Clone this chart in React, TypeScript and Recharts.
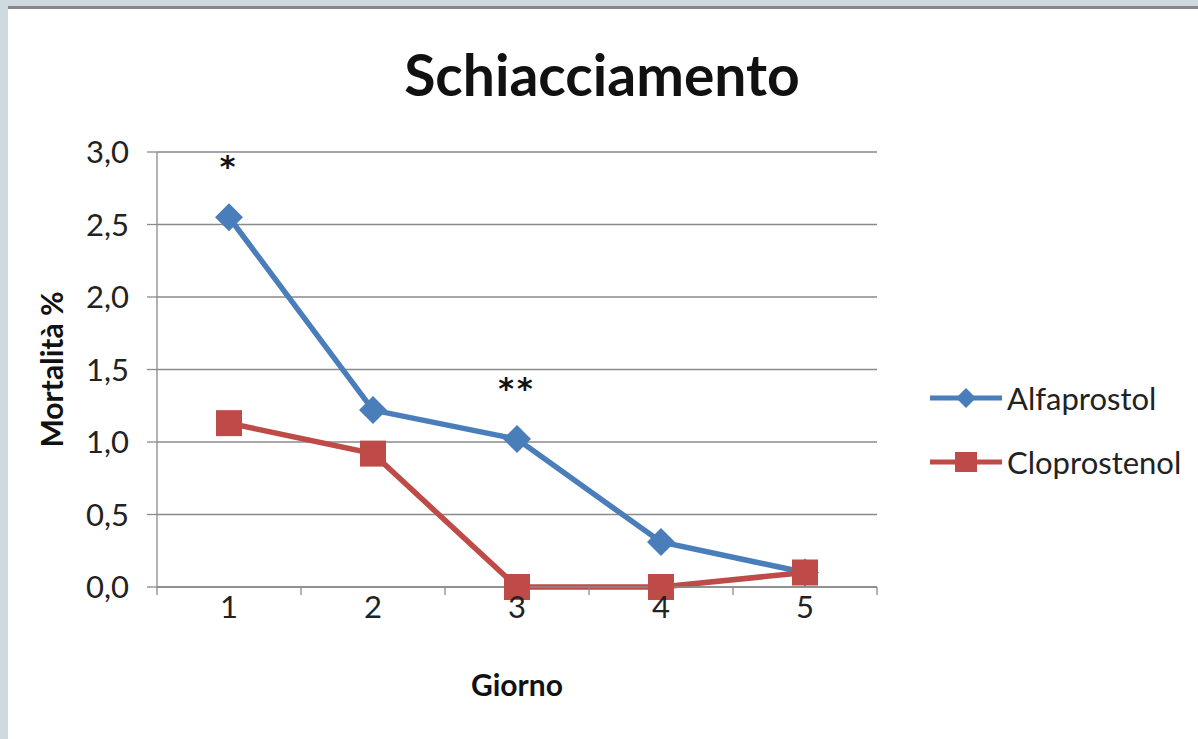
import React from 'react';
import { LineChart, Line, XAxis, YAxis, CartesianGrid, Legend, LabelList } from 'recharts';

const days = [1, 2, 3, 4, 5];
const alfaprostol = [2.55, 1.22, 1.02, 0.31, 0.1];
const cloprostenol = [1.13, 0.92, 0, 0, 0.1];
const annotations = ['*', '', '**', '', ''];
const yTicks = [0, 0.5, 1, 1.5, 2, 2.5, 3];
const xTicks = [0.5, 1, 1.5, 2, 2.5, 3, 3.5, 4, 4.5, 5, 5.5];

const BLUE = '#4A7EBB';
const RED = '#BE4B48';
const GRID = '#8A8A8A';
const FONT = 'Lato, "Open Sans", sans-serif';

const data = days.map((d, i) => ({
  day: d,
  alfa: alfaprostol[i],
  clo: cloprostenol[i],
  note: annotations[i],
}));

const DiamondDot = (props: any) => {
  const { cx, cy, index } = props;
  const r = 14;
  return (
    <polygon
      key={`d-${index}`}
      points={`${cx},${cy - r} ${cx + r},${cy} ${cx},${cy + r} ${cx - r},${cy}`}
      fill={BLUE}
    />
  );
};

const SquareDot = (props: any) => {
  const { cx, cy, index } = props;
  const s = 13;
  return <rect key={`s-${index}`} x={cx - s} y={cy - s} width={2 * s} height={2 * s} fill={RED} />;
};

const XTick = (props: any) => {
  const { x, y, payload } = props;
  const v = payload.value;
  if (Number.isInteger(v)) {
    return (
      <text x={x} y={y + 31} textAnchor="middle" fontFamily={FONT} fontSize={31} fill="#222">
        {v}
      </text>
    );
  }
  return <line x1={x} x2={x} y1={y} y2={y + 8} stroke={GRID} strokeWidth={1.3} />;
};

const LegendContent = () => {
  const items = [
    { name: 'Alfaprostol', color: BLUE, kind: 'diamond' },
    { name: 'Cloprostenol', color: RED, kind: 'square' },
  ];
  return (
    <div>
      {items.map((it) => (
        <div key={it.name} style={{ display: 'flex', alignItems: 'center', height: 64 }}>
          <svg width={78} height={30} style={{ display: 'block' }}>
            <line x1={2} x2={74} y1={15} y2={15} stroke={it.color} strokeWidth={5} />
            {it.kind === 'diamond' ? (
              <polygon points="38,5 48,15 38,25 28,15" fill={it.color} />
            ) : (
              <rect x={27} y={5} width={22} height={20} fill={it.color} />
            )}
          </svg>
          <span style={{ fontFamily: FONT, fontSize: 31, color: '#222', marginLeft: 1 }}>{it.name}</span>
        </div>
      ))}
    </div>
  );
};

export default function App() {
  return (
    <div style={{ position: 'absolute', left: 0, top: 0, width: 1198, height: 739, background: '#CED9E0', overflow: 'hidden' }}>
      <div style={{ position: 'absolute', left: 8, top: 6, width: 1190, height: 3, background: '#878787' }} />
      <div style={{ position: 'absolute', left: 8, top: 9, width: 1190, height: 730, background: '#FFFFFF' }} />
      <div
        style={{
          position: 'absolute',
          left: 0,
          top: 46,
          width: 1204,
          textAlign: 'center',
          fontFamily: FONT,
          fontWeight: 700,
          fontSize: 57,
          lineHeight: 1,
          color: '#111',
        }}
      >
        Schiacciamento
      </div>
      <div style={{ position: 'absolute', left: 0, top: 0 }}>
        <LineChart width={1198} height={739} data={data} margin={{ top: 152, right: 321, bottom: 0, left: 0 }}>
          <CartesianGrid horizontal vertical={false} stroke={GRID} strokeWidth={1.3} />
          <XAxis
            dataKey="day"
            type="number"
            domain={[0.5, 5.5]}
            ticks={xTicks}
            interval={0}
            height={152}
            tickSize={0}
            tickMargin={0}
            tickLine={false}
            tick={<XTick />}
            axisLine={{ stroke: GRID, strokeWidth: 1.3 }}
            label={{
              value: 'Giorno',
              position: 'insideTop',
              offset: 88,
              style: { fontFamily: FONT, fontWeight: 700, fontSize: 30, fill: '#111' },
            }}
          />
          <YAxis
            type="number"
            domain={[0, 3]}
            ticks={yTicks}
            interval={0}
            width={157}
            tickSize={10}
            tickMargin={18}
            tickLine={{ stroke: GRID, strokeWidth: 1.3 }}
            axisLine={{ stroke: GRID, strokeWidth: 1.3 }}
            tickFormatter={(v: number) => v.toFixed(1).replace('.', ',')}
            tick={{ fontFamily: FONT, fontSize: 31, fill: '#222' }}
            label={{
              value: 'Mortalità %',
              angle: -90,
              position: 'center',
              dx: -26,
              style: { fontFamily: FONT, fontWeight: 700, fontSize: 30, fill: '#111', textAnchor: 'middle' },
            }}
          />
          <Legend
            layout="vertical"
            align="center"
            verticalAlign="middle"
            content={<LegendContent />}
            wrapperStyle={{ left: 928, top: 366, width: 270 }}
          />
          <Line
            name="Alfaprostol"
            dataKey="alfa"
            type="linear"
            stroke={BLUE}
            strokeWidth={5.5}
            dot={<DiamondDot />}
            activeDot={false}
            isAnimationActive={false}
          >
            <LabelList
              dataKey="note"
              position="top"
              offset={40}
              style={{ fontFamily: '"DejaVu Sans", sans-serif', fontWeight: 700, fontSize: 30, fill: '#111', letterSpacing: 3 }}
            />
          </Line>
          <Line
            name="Cloprostenol"
            dataKey="clo"
            type="linear"
            stroke={RED}
            strokeWidth={5.5}
            dot={<SquareDot />}
            activeDot={false}
            isAnimationActive={false}
          />
        </LineChart>
      </div>
    </div>
  );
}
